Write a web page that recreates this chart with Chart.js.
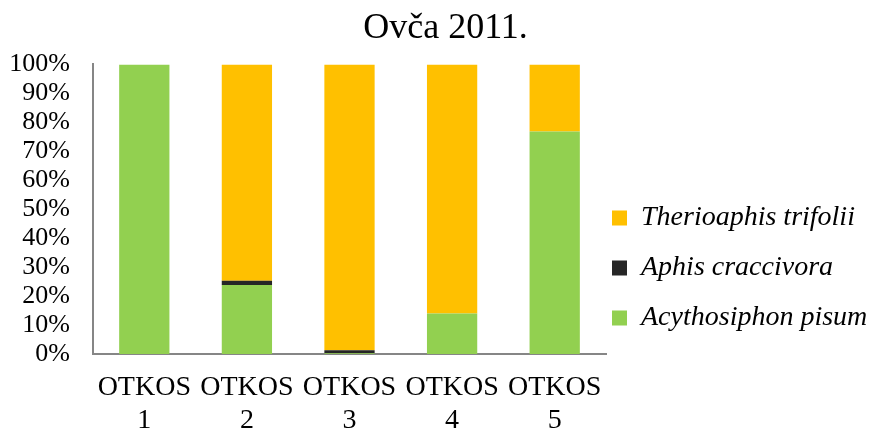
<!DOCTYPE html>
<html>
<head>
<meta charset="utf-8">
<script src="https://cdn.jsdelivr.net/npm/chart.js@4/dist/chart.umd.min.js"></script>
<style>
  body { margin: 0; background: #fff; }
  #wrap { width: 873px; height: 434px; }
</style>
</head>
<body>
<div id="wrap"><canvas id="chart"></canvas></div>
<script>
const categories = [["OTKOS", "1"], ["OTKOS", "2"], ["OTKOS", "3"], ["OTKOS", "4"], ["OTKOS", "5"]];

// share of each species per cut, in %
const acythosiphonPisum = [100, 23.8, 0.3, 14, 76.8];
const aphisCraccivora = [0, 1.5, 1, 0, 0];
const therioaphisTrifolii = [0, 74.7, 98.7, 86, 23.2];

const yTicks = [0, 10, 20, 30, 40, 50, 60, 70, 80, 90, 100];

const serif = "'Liberation Serif', 'Times New Roman', serif";

const datasets = [
  { label: "Acythosiphon pisum", data: acythosiphonPisum, backgroundColor: "#92D050" },
  { label: "Aphis craccivora", data: aphisCraccivora, backgroundColor: "#262626" },
  { label: "Therioaphis trifolii", data: therioaphisTrifolii, backgroundColor: "#FFC000" },
].map((d) => ({ ...d, barPercentage: 0.49, categoryPercentage: 1 }));

// pull the legend a bit closer to the plot and the title a bit right, like the excel original
const nudge = {
  id: "nudge",
  afterLayout(chart) {
    chart.legend.left -= 16;
    chart.titleBlock.left += 18;
  },
};

new Chart(document.getElementById("chart"), {
  type: "bar",
  data: { labels: categories, datasets: datasets },
  plugins: [nudge],
  options: {
    responsive: true,
    maintainAspectRatio: false,
    animation: false,
    layout: { padding: 0 },
    plugins: {
      title: {
        display: true,
        text: "Ovča 2011.",
        color: "#000",
        font: { family: serif, size: 36, weight: "normal", lineHeight: 1.15 },
        padding: { top: 8, bottom: 15 },
      },
      legend: {
        position: "right",
        align: "end",
        fullSize: false,
        reverse: true,
        maxWidth: 267,
        labels: {
          color: "#000",
          font: { family: serif, size: 28, style: "italic" },
          boxWidth: 15,
          boxHeight: 15,
          padding: 22,
        },
      },
      tooltip: { enabled: false },
    },
    scales: {
      x: {
        stacked: true,
        afterFit: (axis) => {
          axis.height = 80;
        },
        grid: { display: false, drawTicks: false },
        border: { color: "#868686", width: 2 },
        ticks: {
          color: "#000",
          font: { family: serif, size: 28, lineHeight: 1.15 },
          padding: 18,
          maxRotation: 0,
          autoSkip: false,
        },
      },
      y: {
        stacked: true,
        min: 0,
        max: 100,
        afterBuildTicks: (axis) => {
          axis.ticks = yTicks.map((v) => ({ value: v }));
        },
        afterFit: (axis) => {
          axis.width = 93;
        },
        grid: { display: false, drawTicks: false },
        border: { color: "#868686", width: 2 },
        ticks: {
          color: "#000",
          font: { family: serif, size: 26 },
          padding: 23,
          autoSkip: false,
          callback: (v) => v + "%",
        },
      },
    },
  },
});
</script>
</body>
</html>
